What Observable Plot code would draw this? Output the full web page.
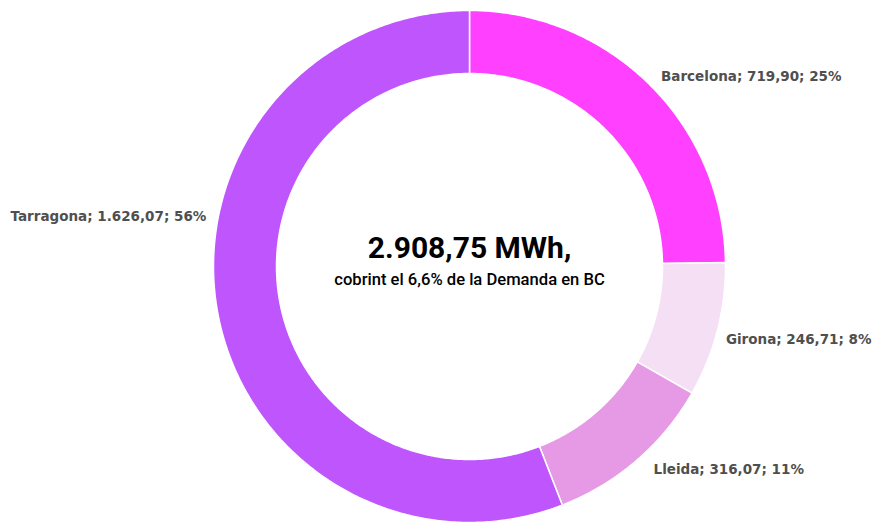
<!DOCTYPE html>
<html>
<head>
<meta charset="utf-8">
<script src="https://cdn.jsdelivr.net/npm/d3@7"></script>
<script src="https://cdn.jsdelivr.net/npm/@observablehq/plot@0.6"></script>
<style>
  html, body { margin: 0; padding: 0; background: #ffffff; }
  #chart svg { display: block; }
</style>
</head>
<body>
<div id="chart"></div>
<script>
// ---- data ----
const provinces = ["Barcelona", "Girona", "Lleida", "Tarragona"];
const energyMWh = [719.90, 246.71, 316.07, 1626.07];
const shareLabels = ["25%", "8%", "11%", "56%"];
const valueLabels = ["719,90", "246,71", "316,07", "1.626,07"];
const colors = ["#ff40ff", "#f4dff4", "#e69ae6", "#bf55fc"];
const totalLabel = "2.908,75 MWh,";
const subtitleLabel = "cobrint el 6,6% de la Demanda en BC";

// ---- layout ----
const W = 872, H = 523;
const cx = 469, cy = 266, R = 256;      // pixel centre and outer radius
const innerRatio = 193 / 256;
// label placement: radius factor, nudge in px, anchor
const labelLayout = [
  {r: 1.1,  dx: -6, dy: 11,  anchor: "start"},
  {r: 1.05, dx: -4, dy: 6,   anchor: "start"},
  {r: 1.1,  dx: 0,  dy: -10, anchor: "start"},
  {r: 1.05, dx: 1,  dy: -99, anchor: "end"}
];

const total = d3.sum(energyMWh);
let acc = 0;
const slices = provinces.map((name, i) => {
  const a0 = acc / total * 2 * Math.PI;
  acc += energyMWh[i];
  const a1 = acc / total * 2 * Math.PI;
  return {name, a0, a1, mid: (a0 + a1) / 2, i};
});

// polygon points for each ring segment (angle clockwise from top)
const pts = [];
for (const s of slices) {
  const n = Math.max(8, Math.ceil((s.a1 - s.a0) / 0.01));
  for (let k = 0; k <= n; k++) {
    const a = s.a0 + (s.a1 - s.a0) * k / n;
    pts.push({name: s.name, x: Math.sin(a), y: Math.cos(a)});
  }
  for (let k = n; k >= 0; k--) {
    const a = s.a0 + (s.a1 - s.a0) * k / n;
    pts.push({name: s.name, x: innerRatio * Math.sin(a), y: innerRatio * Math.cos(a)});
  }
}

const labelMarks = slices.map(s => {
  const L = labelLayout[s.i];
  return Plot.text([s], {
    x: d => L.r * Math.sin(d.mid),
    y: d => L.r * Math.cos(d.mid),
    text: d => `${d.name}; ${valueLabels[d.i]}; ${shareLabels[d.i]}`,
    textAnchor: L.anchor,
    dx: L.dx, dy: L.dy,
    fill: "#4f4f4f",
    fontSize: 13.5,
    fontWeight: "bold",
    fontFamily: "DejaVu Sans, sans-serif"
  });
});

const chart = Plot.plot({
  width: W,
  height: H,
  margin: 0,
  x: {domain: [-cx / R, (W - cx) / R], axis: null},
  y: {domain: [(cy - H) / R, cy / R], axis: null},
  color: {domain: provinces, range: colors},
  style: {background: "#ffffff", overflow: "visible"},
  marks: [
    Plot.line(pts, {
      x: "x", y: "y", z: "name",
      fill: "name",
      stroke: "#ffffff",
      strokeWidth: 1.5,
      curve: "linear-closed"
    }),
    ...labelMarks,
    Plot.text([totalLabel], {
      x: () => 0, y: () => 0, text: d => d,
      dy: -18,
      fontSize: 30, fontWeight: "bold",
      fontFamily: "Roboto, sans-serif",
      fill: "#000000"
    }),
    Plot.text([subtitleLabel], {
      x: () => 0, y: () => 0, text: d => d,
      dy: 13,
      fontSize: 16.6, fontWeight: 500,
      fontFamily: "Roboto, sans-serif",
      fill: "#000000"
    })
  ]
});

document.getElementById("chart").appendChild(chart);
</script>
</body>
</html>
